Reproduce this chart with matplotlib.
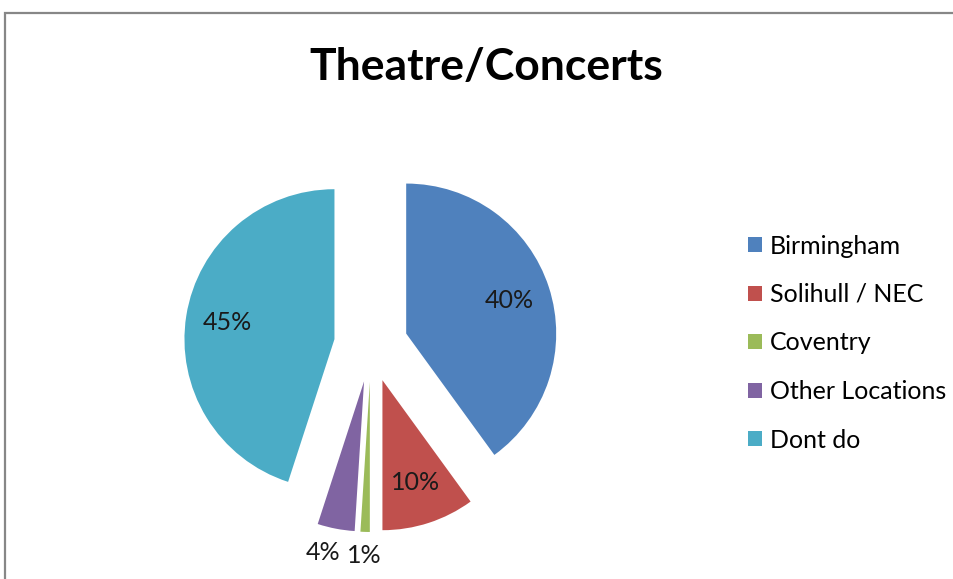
import matplotlib.pyplot as plt
from matplotlib.patches import Rectangle
from matplotlib.transforms import IdentityTransform
import numpy as np

plt.rcParams['font.family'] = ['Lato', 'DejaVu Sans']

title = "Theatre/Concerts"
locations = ["Birmingham", "Solihull / NEC", "Coventry", "Other Locations", "Dont do"]
shares = [40, 10, 1, 4, 45]
colors = ["#4F81BD", "#C0504D", "#9BBB59", "#8064A2", "#4BACC6"]

W, H = 954, 579
px = IdentityTransform()
fig = plt.figure(figsize=(W / 100, H / 100), dpi=100)
ax = fig.add_axes([0, 0, 1, 1])

# chart area border, runs off the right and bottom edge
fig.patches.append(Rectangle((5, -10), W, H - 13 + 10, transform=px,
                             fill=False, edgecolor="#878787", linewidth=1.6))

cx, cy, r = 371, H - 345, 150
wedges, _, pcts = ax.pie(shares, colors=colors, startangle=90, counterclock=False,
                         radius=r, center=(cx, cy), explode=[37] * len(shares),
                         autopct=lambda p: f"{p:.0f}%", pctdistance=0.72,
                         frame=False, textprops=dict(fontsize=18, color="#1a1a1a"))

# small slices get their labels pushed below the pie, nudged apart
nudge = {2: 0, 3: -8}
for i, (w, t, s) in enumerate(zip(wedges, pcts, shares)):
    if s < 5:
        th = np.deg2rad((w.theta1 + w.theta2) / 2)
        wx, wy = w.center
        t.set_position((wx + 1.16 * r * np.cos(th) + nudge[i],
                        wy + 1.16 * r * np.sin(th)))

ax.set_xlim(0, W)
ax.set_ylim(0, H)
ax.set_aspect("equal")
ax.axis("off")

fig.text(486, H - 80, title, ha="center", va="baseline", transform=px,
         fontsize=32, fontweight="bold")

ax.legend(wedges, locations, loc="center left", bbox_to_anchor=(748, H - 343),
          bbox_transform=px, frameon=False, fontsize=18, borderpad=0,
          handlelength=0.56, handleheight=0.56, handletextpad=0.3,
          labelspacing=1.02, borderaxespad=0)

fig.savefig("out.png", dpi=100)
